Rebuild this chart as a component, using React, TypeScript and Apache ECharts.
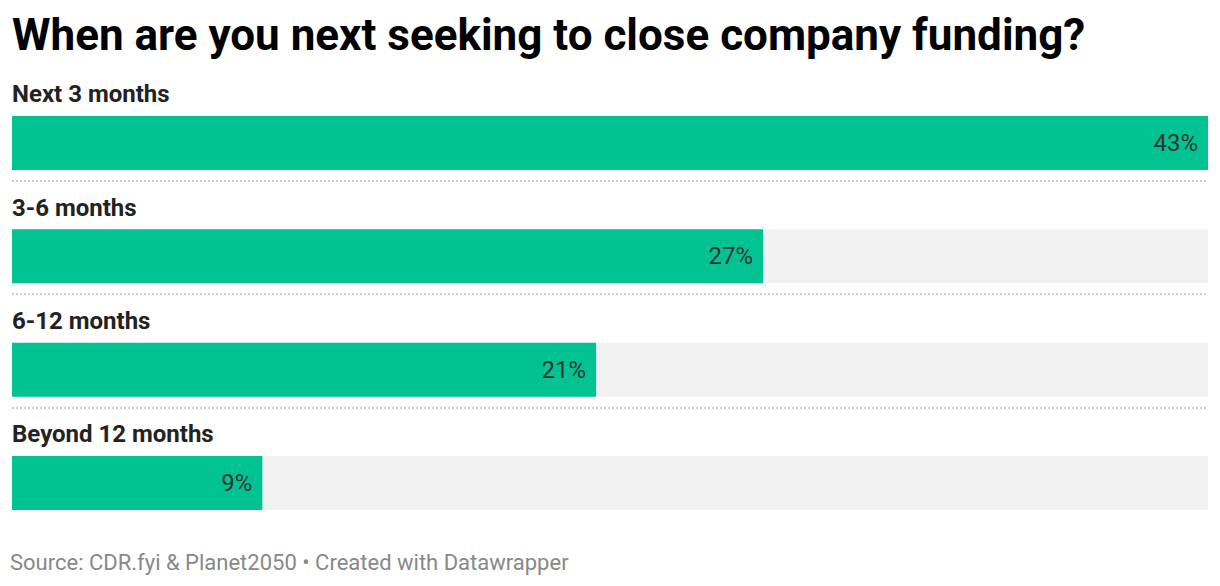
import React, { useEffect, useRef } from "react";
import * as echarts from "echarts";

const categories = ["Next 3 months", "3-6 months", "6-12 months", "Beyond 12 months"];
const values = [43, 27, 21, 9];
const title = "When are you next seeking to close company funding?";
const source = "Source: CDR.fyi & Planet2050 • Created with Datawrapper";

export default function App() {
  const ref = useRef<HTMLDivElement>(null);
  useEffect(() => {
    const chart = echarts.init(ref.current!, null, { renderer: "svg" });
    const font = "Roboto, 'Noto Sans', sans-serif";
    chart.setOption({
      animation: false,
      backgroundColor: "#ffffff",
      title: [
        {
          text: title,
          left: 7,
          top: 8,
          textStyle: { fontFamily: font, fontWeight: "bold", fontSize: 44, color: "#000000" },
        },
        {
          text: source,
          left: 5,
          top: 546,
          textStyle: { fontFamily: font, fontWeight: "normal", fontSize: 22, color: "#888888" },
        },
      ],
      grid: { left: 12, right: 12, top: 86.33, height: 453.33, containLabel: false },
      xAxis: { type: "value", min: 0, max: 43, show: false },
      yAxis: {
        type: "category",
        data: categories,
        inverse: true,
        axisLine: { show: false },
        axisTick: { show: false },
        splitLine: { show: false },
        axisLabel: { show: false },
      },
      series: [
        {
          type: "bar",
          data: values,
          barWidth: 54,
          showBackground: true,
          backgroundStyle: { color: "#f2f2f2" },
          itemStyle: { color: "#00c391" },
          label: {
            show: true,
            position: "insideRight",
            distance: 10,
            formatter: "{c}%",
            fontFamily: font,
            fontSize: 24,
            color: "#333333",
          },
          z: 2,
        },
      ],
    });
    const graphics: any[] = [];
    categories.forEach((c, i) => {
      const cy = chart.convertToPixel({ yAxisIndex: 0 }, i) as number;
      graphics.push({
        type: "text",
        x: 12,
        y: cy - 48.5,
        style: {
          text: c,
          fontFamily: font,
          fontWeight: "bold",
          fontSize: 24,
          fill: "#222222",
          textAlign: "left",
          textVerticalAlign: "middle",
        },
        silent: true,
      });
      if (i < categories.length - 1) {
        const y = Math.round(cy) + 38;
        graphics.push({
          type: "line",
          shape: { x1: 12, y1: y, x2: 1208, y2: y },
          style: { stroke: "#cccccc", lineWidth: 2, lineDash: [2, 2] },
          silent: true,
        });
      }
    });
    chart.setOption({ graphic: graphics });
    return () => chart.dispose();
  }, []);
  return (
    <div
      ref={ref}
      style={{ position: "fixed", left: 0, top: 0, width: 1220, height: 586 }}
    />
  );
}
